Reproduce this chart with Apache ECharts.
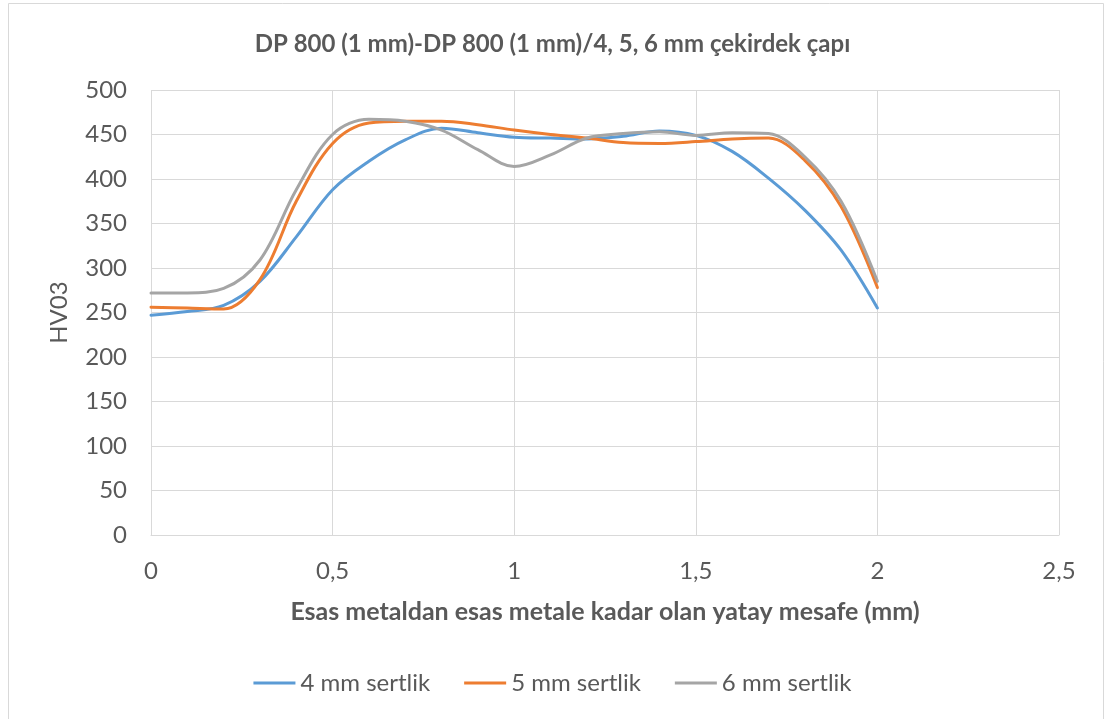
<!DOCTYPE html>
<html>
<head>
<meta charset="utf-8">
<script src="https://cdn.jsdelivr.net/npm/echarts@6/dist/echarts.min.js"></script>
<style>
  html, body { margin: 0; padding: 0; background: #fff; }
  #chart { width: 1105px; height: 719px; }
</style>
</head>
<body>
<div id="chart"></div>
<script>
// Horizontal distance across the weld (mm)
const distance = [0, 0.1, 0.2, 0.3, 0.4, 0.5, 0.6, 0.7, 0.8, 0.9, 1.0,
                  1.1, 1.2, 1.3, 1.4, 1.5, 1.6, 1.7, 1.8, 1.9, 2.0];

// HV03 hardness for each nugget diameter
const hardness4mm = [247, 251, 258, 285, 335, 388, 420, 444, 457, 452, 447,
                     446, 445, 448, 454, 449, 431, 401, 365, 320, 255];
const hardness5mm = [256, 255, 254, 287, 375, 440, 463, 465, 465, 461, 455,
                     450, 446, 441, 440, 442, 445, 446, 421, 369, 278];
const hardness6mm = [272, 272, 277, 309, 388, 450, 467, 465, 455, 433, 414,
                     427, 446, 451, 453, 449, 452, 451, 425, 375, 285];

const seriesNames = ['4 mm sertlik', '5 mm sertlik', '6 mm sertlik'];
const seriesColors = ['#5B9BD5', '#ED7D31', '#A5A5A5'];

const titleText = 'DP 800 (1 mm)-DP 800 (1 mm)/4, 5, 6 mm çekirdek çapı';
const xAxisName = 'Esas metaldan esas metale kadar olan yatay mesafe (mm)';
const yAxisName = 'HV03';

const FONT = "Lato, 'Open Sans', sans-serif";
const TEXT = '#595959';

function pairs(xs, ys) { return xs.map((x, i) => [x, ys[i]]); }

const allValues = [hardness4mm, hardness5mm, hardness6mm];

const chart = echarts.init(document.getElementById('chart'), null, { renderer: 'canvas' });
chart.setOption({
  animation: false,
  backgroundColor: '#fff',
  textStyle: { fontFamily: FONT },
  graphic: [{
    type: 'rect',
    shape: { x: 8.5, y: 3.5, width: 1095, height: 740 },
    style: { fill: 'none', stroke: '#d9d9d9', lineWidth: 1 },
    silent: true
  }],
  title: {
    text: titleText,
    left: 'center',
    top: 27,
    textStyle: { fontFamily: FONT, fontSize: 24, fontWeight: 'bold', color: TEXT }
  },
  legend: {
    bottom: 19,
    left: 'center',
    itemWidth: 42,
    itemHeight: 3,
    itemGap: 34,
    textStyle: { fontFamily: FONT, fontSize: 24, color: TEXT },
    data: seriesNames.map(n => ({ name: n, icon: 'rect' }))
  },
  grid: { left: 151, right: 46, top: 90, bottom: 184, containLabel: false },
  xAxis: {
    type: 'value',
    min: 0, max: 2.5, interval: 0.5,
    name: xAxisName,
    nameLocation: 'middle',
    nameGap: 64,
    nameTextStyle: { fontFamily: FONT, fontSize: 25, fontWeight: 'bold', color: TEXT },
    axisLine: { show: true, lineStyle: { color: '#d9d9d9', width: 1 } },
    axisTick: { show: false },
    axisLabel: {
      fontFamily: FONT, fontSize: 24, color: TEXT, margin: 24,
      formatter: v => String(v).replace('.', ',')
    },
    splitLine: { show: true, lineStyle: { color: '#d9d9d9', width: 1 } }
  },
  yAxis: {
    type: 'value',
    min: 0, max: 500, interval: 50,
    name: yAxisName,
    nameLocation: 'middle',
    nameGap: 80,
    nameRotate: 90,
    nameTextStyle: { fontFamily: FONT, fontSize: 24, color: TEXT },
    axisLine: { show: false },
    axisTick: { show: false },
    axisLabel: { fontFamily: FONT, fontSize: 24, color: TEXT, margin: 24 },
    splitLine: { show: true, lineStyle: { color: '#d9d9d9', width: 1 } }
  },
  series: seriesNames.map((name, i) => ({
    name: name,
    type: 'line',
    data: pairs(distance, allValues[i]),
    smooth: 0.35,
    symbol: 'none',
    color: seriesColors[i],
    lineStyle: { color: seriesColors[i], width: 3, cap: 'round' },
    z: 3 + i
  }))
});
</script>
</body>
</html>
